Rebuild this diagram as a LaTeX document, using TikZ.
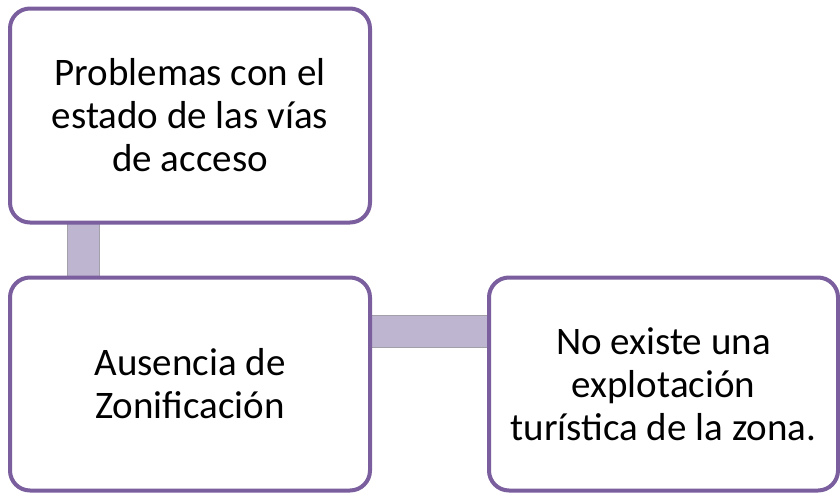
\documentclass[tikz,border=0pt]{standalone}
\usepackage{fontspec}
\setmainfont{Carlito}
\usetikzlibrary{positioning, backgrounds}
\definecolor{cpurple}{HTML}{7A5E9E}
\definecolor{clilac}{HTML}{BEB6D1}
\definecolor{cgrey}{HTML}{A3A0AA}
\tikzset{
  every picture/.style={x=1pt, y=-1pt},
  box/.style={draw=cpurple, fill=white, line width=4pt, rounded corners=20pt, outer sep=0pt,
    align=center, minimum width=360pt, minimum height=214pt, font=\fontsize{39}{43}\selectfont},
  link/.style={draw=cgrey, fill=clilac, line width=1pt},
}
\begin{document}
\begin{tikzpicture}
  \useasboundingbox (0,0) rectangle (840,493);
  \node[box] (acceso) at (190,115.5) {Problemas con el\\estado de las vías\\de acceso};
  \node[box, minimum height=213pt, below=55pt of acceso] (zonas) {Ausencia de\\Zonificación};
  \node[box, minimum width=349pt, minimum height=213pt, right=119pt of zonas] (turismo) {No existe una\\explotación\\turística de la zona.};
  \begin{scope}[on background layer]
    \draw[link] ([xshift=57pt]acceso.south west) rectangle ([xshift=89pt]zonas.north west);
    \draw[link] ([yshift=-38pt]zonas.north east) rectangle ([yshift=-70pt]turismo.north west);
  \end{scope}
\end{tikzpicture}
\end{document}
